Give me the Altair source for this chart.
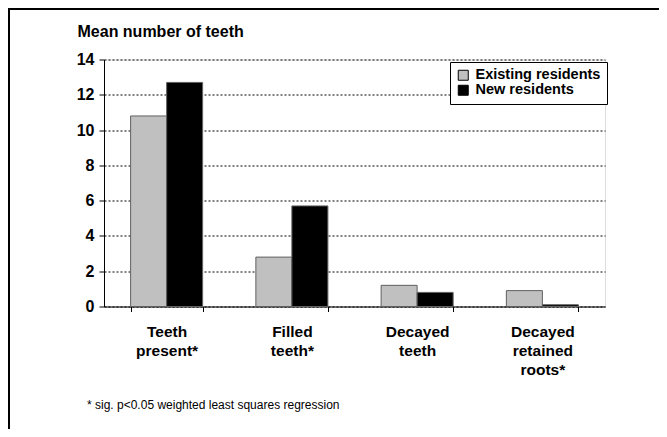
import altair as alt
import pandas as pd

categories = ["Teeth|present*", "Filled|teeth*", "Decayed|teeth", "Decayed|retained|roots*"]
groups = ["Existing residents", "New residents"]
existing = [10.8, 2.8, 1.2, 0.9]
new = [12.7, 5.7, 0.8, 0.1]
y_title = "Mean number of teeth"
footnote = "* sig. p<0.05 weighted least squares regression"
y_ticks = [0, 2, 4, 6, 8, 10, 12, 14]
colors = ["#c0c0c0", "#000000"]

rows = []
for c, e, n in zip(categories, existing, new):
    rows.append({"category": c, "group": groups[0], "value": e})
    rows.append({"category": c, "group": groups[1], "value": n})
df = pd.DataFrame(rows)

FONT = "Liberation Sans"

bars = alt.Chart(df).mark_bar(stroke="#606060", strokeWidth=1).encode(
    x=alt.X("category:N", sort=categories, title=None,
            scale=alt.Scale(paddingInner=0.425, paddingOuter=0.2125),
            axis=alt.Axis(labelExpr="split(datum.label, '|')", labelAngle=0,
                          labelFont=FONT, labelFontSize=15.5, labelFontWeight="bold",
                          labelColor="black", labelBaseline="alphabetic",
                          labelPadding=25, labelLineHeight=19, labelOverlap=False,
                          tickBand="extent", tickSize=5, tickColor="black",
                          domainColor="black", grid=False)),
    xOffset=alt.XOffset("group:N", sort=groups),
    y=alt.Y("value:Q", scale=alt.Scale(domain=[0, 14], nice=False),
            axis=alt.Axis(values=y_ticks, title=y_title, titleAngle=0,
                          titleAlign="left", titleBaseline="alphabetic",
                          titleX=-27, titleY=-23, titleFont=FONT,
                          titleFontSize=16, titleFontWeight="bold", titleColor="black",
                          labelFont=FONT, labelFontSize=16, labelFontWeight="bold",
                          labelColor="black", labelPadding=5,
                          tickSize=5, tickColor="black", domainColor="black",
                          grid=True, gridColor="black", gridDash=[2, 2], gridWidth=1,
                          gridOpacity=1)),
    color=alt.Color("group:N", sort=groups,
                    scale=alt.Scale(domain=groups, range=colors),
                    legend=alt.Legend(title=None, orient="none", legendX=346, legendY=2.5,
                                      symbolType="square", symbolSize=100,
                                      symbolStrokeColor="black", symbolStrokeWidth=1,
                                      labelFont=FONT, labelFontSize=14.5,
                                      labelFontWeight="bold", labelColor="black",
                                      labelOffset=5, rowPadding=-2, padding=6,
                                      strokeColor="black", fillColor="white")),
)

frame_df = pd.DataFrame({"k": [0]})
left_border = alt.Chart(frame_df).mark_rule(color="black", strokeWidth=2).encode(
    x=alt.value(-95), y=alt.value(-51.5), y2=alt.value(370))
top_border = alt.Chart(frame_df).mark_rule(color="black", strokeWidth=2).encode(
    x=alt.value(-96), x2=alt.value(560), y=alt.value(-50.5))

note_df = pd.DataFrame({"note": [footnote]})
note = alt.Chart(note_df).mark_text(align="left", baseline="alphabetic", font=FONT,
                                     fontSize=12, color="black").encode(
    text="note:N", x=alt.value(-17), y=alt.value(349))

chart = alt.layer(bars, left_border, top_border, note).properties(
    width=501, height=247,
    autosize=alt.AutoSizeParams(type="none"),
    padding={"left": 96, "top": 51.5, "right": 54, "bottom": 122.5},
).configure_view(stroke=None).configure(background="white")

chart.save("out.html", embed_options={"renderer": "svg", "actions": False})
